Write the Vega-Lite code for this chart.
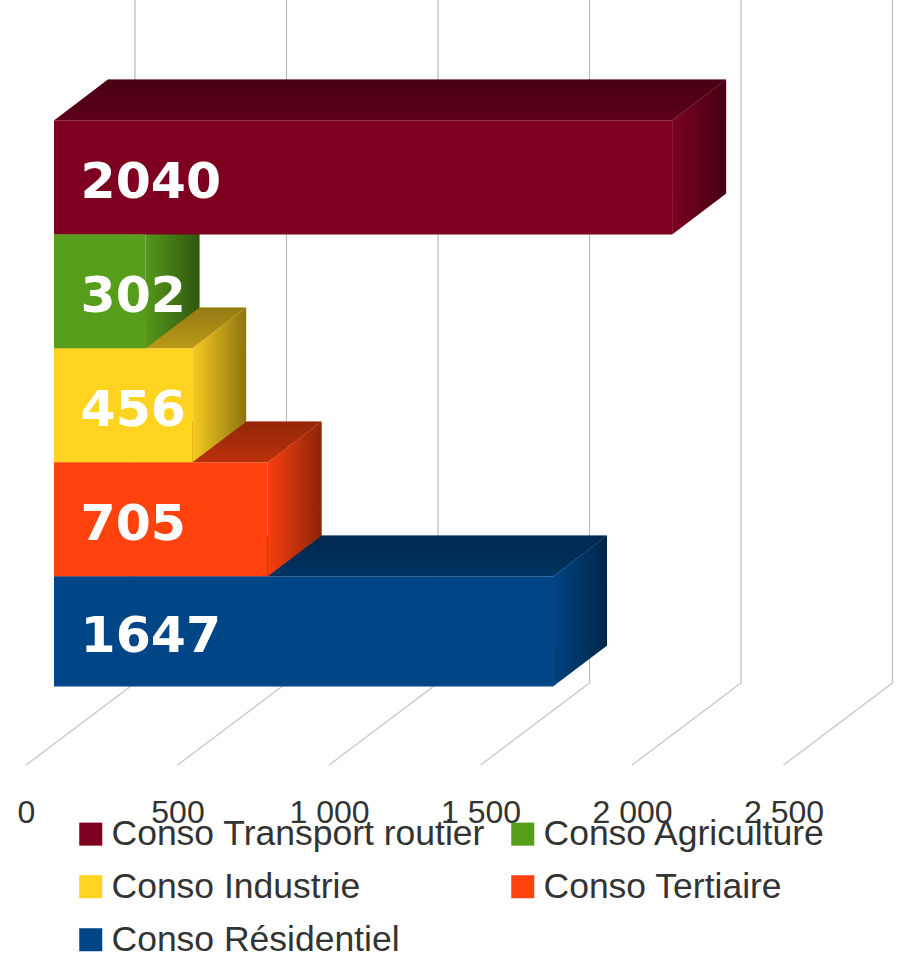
{
"$schema":"https://vega.github.io/schema/vega-lite/v6.json",
"width":898,"height":959,"padding":0,"autosize":{"type":"none"},"background":"white",
"datasets":{
"bars":[
{"name":"Conso Transport routier","value":2040,"pos":0},
{"name":"Conso Agriculture","value":302,"pos":1},
{"name":"Conso Industrie","value":456,"pos":2},
{"name":"Conso Tertiaire","value":705,"pos":3},
{"name":"Conso Résidentiel","value":1647,"pos":4}],
"ticks":[{"v":0},{"v":500},{"v":1000},{"v":1500},{"v":2000},{"v":2500}]
},
"config":{"view":{"stroke":null},"legend":{"title":null,"orient":"none","direction":"horizontal","legendX":73,"legendY":816,"columns":2,"symbolType":"square","symbolSize":530,"symbolStrokeWidth":0,"labelFont":"Liberation Sans","labelFontSize":35.5,"labelColor":"#333333","labelOffset":3,"labelLimit":500,"rowPadding":16,"columnPadding":19,"padding":0}},
"layer":[
{"data":{"name":"ticks"},
 "transform":[{"calculate":"datum.v+359.7","as":"xb"},{"calculate":"-1.057","as":"ytop"},{"calculate":"4.934","as":"yf"}],
 "mark":{"type":"rule","color":"#b9b9b9","strokeWidth":1.2},
 "encoding":{"x":{"field":"xb","type":"quantitative","scale":{"domain":[-85.8,2877.9],"nice":false,"zero":false},
   "axis":{"title":null,"orient":"bottom","offset":-147,"values":[0,500,1000,1500,2000,2500],"grid":false,"domain":false,"ticks":false,"labelPadding":0,"labelBaseline":"middle","labelFont":"Liberation Sans","labelFontSize":32,"labelColor":"#333333","labelOverlap":false,"labelFlush":false,"labelExpr":"replace(format(datum.value,','),',',' ')"}},
  "y":{"field":"ytop","type":"quantitative","scale":{"domain":[-1.057,7.355],"nice":false,"zero":false,"reverse":true},"axis":null},
  "y2":{"field":"yf"}}},
{"data":{"name":"ticks"},
 "transform":[{"calculate":"datum.v+359.7","as":"xb"},{"calculate":"4.934","as":"yf"},{"calculate":"5.654","as":"yn"}],
 "mark":{"type":"rule","color":"#c4c4c4","strokeWidth":1.2},
 "encoding":{"x":{"field":"v","type":"quantitative"},"x2":{"field":"xb"},"y":{"field":"yn","type":"quantitative"},"y2":{"field":"yf"}}},
{"data":{"name":"bars"},
 "transform":[{"calculate":"[0,1]","as":"d"},{"flatten":["d"]},{"calculate":"92.4+178.2*datum.d","as":"xl"},{"calculate":"datum.xl+datum.value","as":"xr"},{"calculate":"datum.pos-0.36*datum.d","as":"yy"}],
 "layer":[
  {"mark":{"type":"area","orient":"horizontal"},
   "encoding":{"y":{"field":"yy","type":"quantitative"},"x":{"field":"xl","type":"quantitative"},"x2":{"field":"xr"},
    "color":{"field":"name","type":"nominal"}}},
  {"mark":{"type":"area","orient":"horizontal","fill":{"gradient":"linear","x1":0,"y1":1,"x2":0,"y2":0,"stops":[{"offset":0,"color":"rgba(0,0,0,0.27)"},{"offset":1,"color":"rgba(0,0,0,0.42)"}]}},
   "encoding":{"y":{"field":"yy","type":"quantitative"},"x":{"field":"xl","type":"quantitative"},"x2":{"field":"xr"},"detail":{"field":"name"}}}
 ]},
{"data":{"name":"bars"},
 "transform":[{"calculate":"[0,1]","as":"d"},{"flatten":["d"]},{"calculate":"92.4+datum.value+178.2*datum.d","as":"xx"},{"calculate":"datum.pos-0.36*datum.d","as":"yt"},{"calculate":"min(datum.pos+1,4.965)-0.36*datum.d","as":"yb"}],
 "layer":[
  {"mark":{"type":"area","orient":"vertical"},
   "encoding":{"x":{"field":"xx","type":"quantitative"},"y":{"field":"yt","type":"quantitative"},"y2":{"field":"yb"},
    "color":{"field":"name","type":"nominal"}}},
  {"mark":{"type":"area","orient":"vertical","fill":{"gradient":"linear","x1":0,"y1":0,"x2":1,"y2":0,"stops":[{"offset":0,"color":"rgba(0,0,0,0.03)"},{"offset":1,"color":"rgba(0,0,0,0.45)"}]}},
   "encoding":{"x":{"field":"xx","type":"quantitative"},"y":{"field":"yt","type":"quantitative"},"y2":{"field":"yb"},"detail":{"field":"name"}}}
 ]},
{"data":{"name":"bars"},
 "transform":[{"calculate":"92.4","as":"xs"},{"calculate":"92.4+datum.value","as":"xe"},{"calculate":"min(datum.pos+1,4.965)","as":"pe"}],
 "mark":{"type":"rect"},
 "encoding":{"x":{"field":"xs","type":"quantitative"},"x2":{"field":"xe"},"y":{"field":"pos","type":"quantitative"},"y2":{"field":"pe"},
  "color":{"field":"name","type":"nominal",
   "scale":{"domain":["Conso Transport routier","Conso Agriculture","Conso Industrie","Conso Tertiaire","Conso Résidentiel"],"range":["#7e0021","#579d1c","#ffd320","#ff420e","#004586"]}}}},
{"data":{"name":"bars"},
 "transform":[{"calculate":"180","as":"xt"},{"calculate":"(datum.pos+min(datum.pos+1,4.965))/2","as":"ym"}],
 "mark":{"type":"text","align":"left","baseline":"middle","dy":5,"font":"DejaVu Sans","fontWeight":"bold","fontSize":50.5,"color":"white"},
 "encoding":{"x":{"field":"xt","type":"quantitative"},"y":{"field":"ym","type":"quantitative"},"text":{"field":"value","type":"quantitative","format":"d"}}}
]}
